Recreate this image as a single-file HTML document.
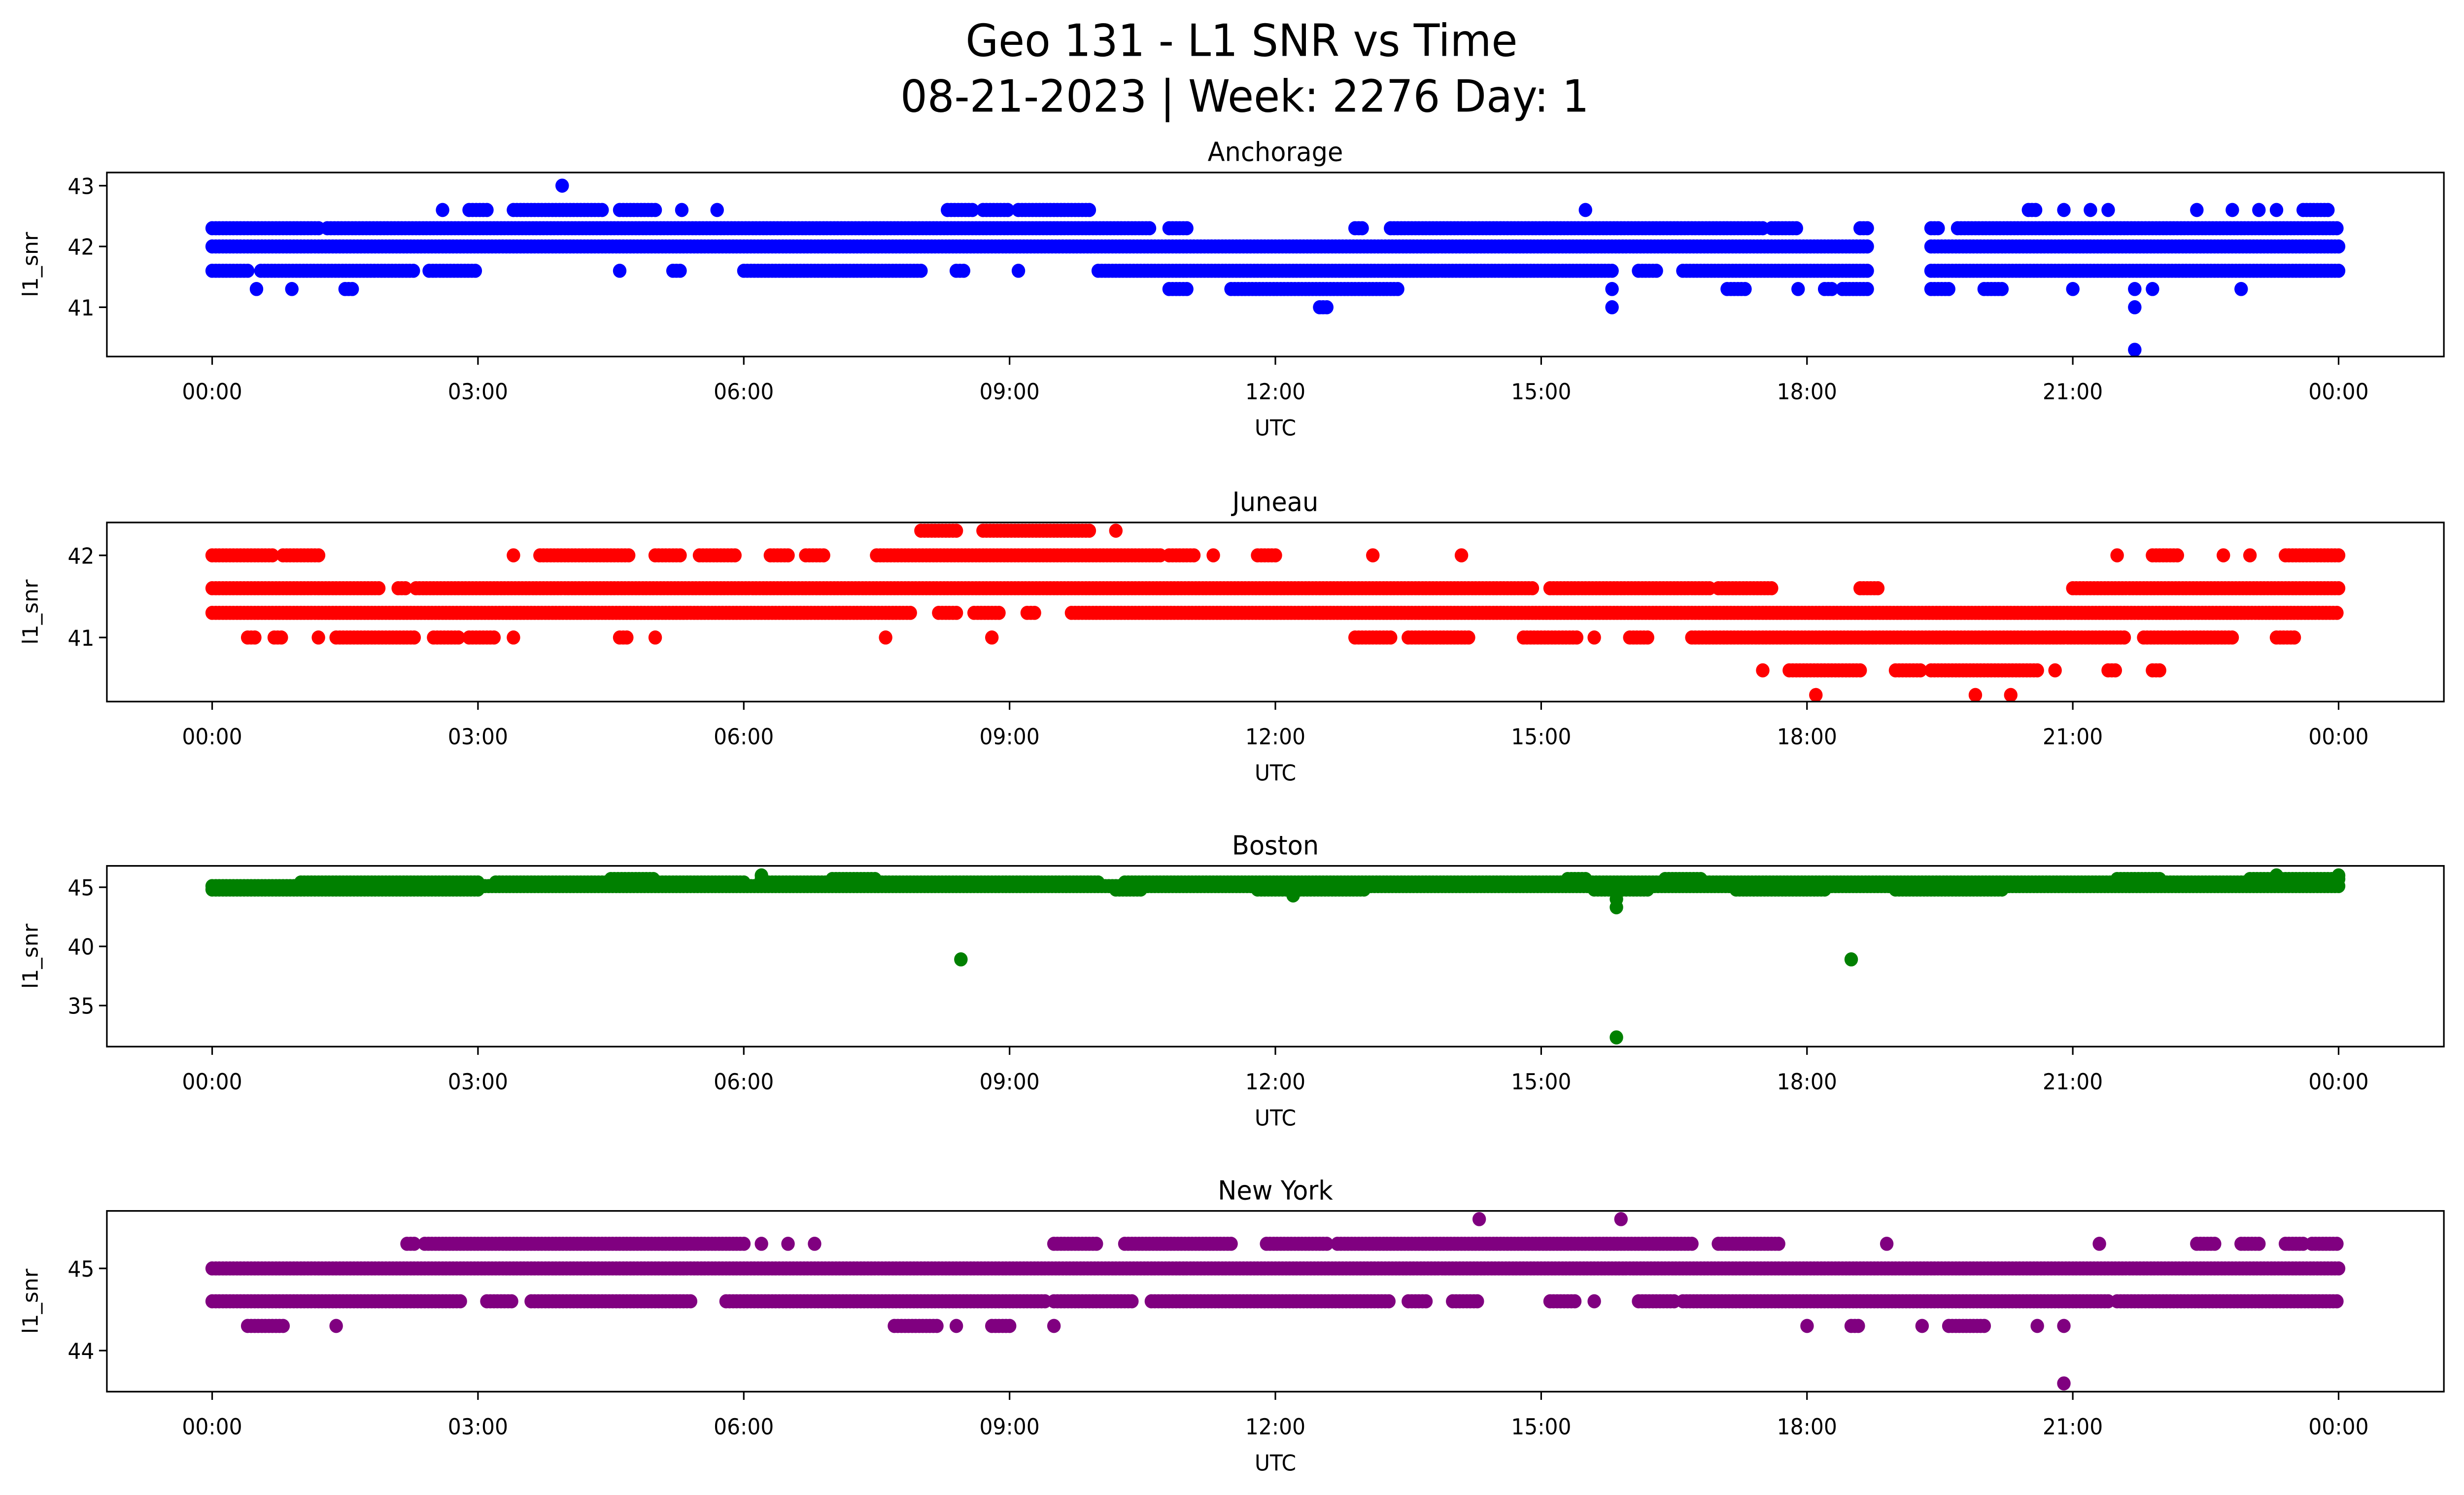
<!DOCTYPE html>
<html><head><meta charset="utf-8">
<style>
html,body{margin:0;padding:0;background:#fff;width:100%;height:100%;overflow:hidden;}
svg{display:block;position:fixed;left:0;top:0;width:100vw;height:100vh;font-family:"DejaVu Sans","Liberation Sans",sans-serif;}
</style></head>
<body>
<svg viewBox="0 0 1567.8 909.9" preserveAspectRatio="none" xmlns="http://www.w3.org/2000/svg">
<g id="chart">
<text x="790" y="34" text-anchor="middle" font-size="27">Geo 131 - L1 SNR vs Time</text>
<text x="792" y="68" text-anchor="middle" font-size="27">08-21-2023 | Week: 2276 Day: 1</text>
</g>
</svg>
<script>
// ---- data: runs [startHour, endHour] at each SNR level ----
const xTickLabels = ["00:00","03:00","06:00","09:00","12:00","15:00","18:00","21:00","00:00"];
const xTickHours = [0,3,6,9,12,15,18,21,24];

const anchorageLevels = [42.0, 42.3, 41.6, 41.3, 41.0, 42.6, 43.0, 40.3];
const anchorageRuns = [
  [[0,18.7],[19.4,24]],
  [[0,1.2],[1.3,10.6],[10.8,11.0],[12.9,13.0],[13.3,17.5],[17.6,17.9],[18.6,18.7],[19.4,19.5],[19.7,24]],
  [[0,0.4],[0.55,2.3],[2.45,3.0],[4.6,4.6],[5.2,5.3],[6.0,8.0],[8.4,8.5],[9.1,9.1],[10.0,15.8],[16.1,16.3],[16.6,18.7],[19.4,24]],
  [[0.5,0.5],[0.9,0.9],[1.5,1.6],[10.8,11.0],[11.5,13.4],[15.8,15.8],[17.1,17.3],[17.9,17.9],[18.2,18.3],[18.4,18.7],[19.4,19.6],[20.0,20.2],[21.0,21.0],[21.7,21.7],[21.9,21.9],[22.9,22.9]],
  [[12.5,12.6],[15.8,15.8],[21.7,21.7]],
  [[2.6,2.6],[2.9,3.1],[3.4,4.4],[4.6,5.0],[5.3,5.3],[5.7,5.7],[8.3,8.6],[8.7,9.0],[9.1,9.9],[15.5,15.5],[20.5,20.6],[20.9,20.9],[21.2,21.2],[21.4,21.4],[22.4,22.4],[22.8,22.8],[23.1,23.1],[23.3,23.3],[23.6,23.9]],
  [[3.95,3.95]],
  [[21.7,21.7]]
];
const anchorageTicks = [41, 42, 43];

const juneauLevels = [41.6, 41.3, 42.0, 41.0, 40.6, 40.3, 42.3];
const juneauRuns = [
  [[0,1.9],[2.1,2.2],[2.3,14.9],[15.1,16.9],[17.0,17.6],[18.6,18.8],[21.0,24]],
  [[0,7.9],[8.2,8.4],[8.6,8.9],[9.2,9.3],[9.7,24]],
  [[0,0.7],[0.8,1.2],[3.4,3.4],[3.7,4.7],[5.0,5.3],[5.5,5.9],[6.3,6.5],[6.7,6.9],[7.5,10.7],[10.8,11.1],[11.3,11.3],[11.8,12.0],[13.1,13.1],[14.1,14.1],[21.5,21.5],[21.9,22.2],[22.7,22.7],[23.0,23.0],[23.4,24]],
  [[0.4,0.5],[0.7,0.8],[1.2,1.2],[1.4,2.3],[2.5,2.8],[2.9,3.2],[3.4,3.4],[4.6,4.7],[5.0,5.0],[7.6,7.6],[8.8,8.8],[12.9,13.3],[13.5,14.2],[14.8,15.4],[15.6,15.6],[16.0,16.2],[16.7,21.6],[21.8,22.8],[23.3,23.5]],
  [[17.5,17.5],[17.8,18.6],[19.0,19.3],[19.4,20.6],[20.8,20.8],[21.4,21.5],[21.9,22.0]],
  [[18.1,18.1],[19.9,19.9],[20.3,20.3]],
  [[8.0,8.4],[8.7,9.9],[10.2,10.2]]
];
const juneauTicks = [41, 42];

const bostonLevels = [44.8, 45.1, 45.4, 45.7, 38.9, 43.3, 44.0, 32.3, 46.0, 44.3];
const bostonRuns = [
  [[0,3.0],[10.2,10.5],[11.8,13.0],[15.6,16.2],[17.2,18.2],[19.0,20.2]],
  [[0,24]],
  [[1.0,3.0],[3.2,6.0],[6.2,10.0],[10.3,24]],
  [[4.5,5.0],[6.2,6.2],[7.0,7.5],[15.3,15.5],[16.4,16.8],[21.5,22.0],[23.0,24]],
  [[8.45,8.45],[18.5,18.5]],
  [[15.85,15.85]],
  [[15.85,15.85]],
  [[15.85,15.85]],
  [[6.2,6.2],[23.3,23.3],[24,24]],
  [[12.2,12.2]]
];
const bostonTicks = [35, 40, 45];

const newYorkLevels = [45.0, 44.6, 45.3, 44.3, 45.6, 43.6];
const newYorkRuns = [
  [[0,24]],
  [[0,2.8],[3.1,3.4],[3.6,5.4],[5.8,9.4],[9.5,10.4],[10.6,13.3],[13.5,13.7],[14.0,14.3],[15.1,15.4],[15.6,15.6],[16.1,16.5],[16.6,21.4],[21.5,24]],
  [[2.2,2.3],[2.4,6.0],[6.2,6.2],[6.5,6.5],[6.8,6.8],[9.5,10.0],[10.3,11.5],[11.9,12.6],[12.7,16.7],[17.0,17.7],[18.9,18.9],[21.3,21.3],[22.4,22.6],[22.9,23.1],[23.4,23.6],[23.7,24]],
  [[0.4,0.8],[1.4,1.4],[7.7,8.2],[8.4,8.4],[8.8,9.0],[9.5,9.5],[18.0,18.0],[18.5,18.6],[19.3,19.3],[19.6,20.0],[20.6,20.6],[20.9,20.9]],
  [[14.3,14.3],[15.9,15.9]],
  [[20.9,20.9]]
];
const newYorkTicks = [44, 45];

// ---- layout ----
const NS = "http://www.w3.org/2000/svg";
const svg = document.getElementById('chart');
const X0 = 68, X1 = 1555;
const xOf = h => 135 + h * (1353 / 24);
const panels = [
  {name:"anchorage", title:"Anchorage", color:"#0000ff", levels:anchorageLevels, runs:anchorageRuns, ticks:anchorageTicks, top:105, bot:217, yA:43, pA:113, yB:41, pB:187},
  {name:"juneau", title:"Juneau", color:"#ff0000", levels:juneauLevels, runs:juneauRuns, ticks:juneauTicks, top:318, bot:427, yA:42, pA:338, yB:41, pB:388},
  {name:"boston", title:"Boston", color:"#008000", levels:bostonLevels, runs:bostonRuns, ticks:bostonTicks, top:527, bot:637, yA:45, pA:540, yB:35, pB:612},
  {name:"new-york", title:"New York", color:"#800080", levels:newYorkLevels, runs:newYorkRuns, ticks:newYorkTicks, top:737, bot:847, yA:45, pA:772, yB:44, pB:822}
];
function mk(tag, attrs, parent){
  const e = document.createElementNS(NS, tag);
  for (const k in attrs) e.setAttribute(k, attrs[k]);
  (parent || svg).appendChild(e);
  return e;
}
panels.forEach(p => {
  const g = mk('g', {});
  
  
  const yOf = v => p.pA + (v - p.yA) * (p.pB - p.pA) / (p.yB - p.yA);
  const pts = mk('g', {fill:p.color}, g);
  
  
  p.levels.forEach((lv, i) => {
    const cy = yOf(lv);
    p.runs[i].forEach(r => {
      const step = 0.04;
      for (let h = r[0]; h <= r[1] + 1e-9; h += step) {
        mk('circle', {cx: xOf(h).toFixed(1), cy: cy.toFixed(1), r: 4.3}, pts);
      }
    });
  });
  const fr = mk('rect', {x:X0, y:p.top, width:X1-X0, height:p.bot-p.top, fill:'none', stroke:'#000', 'stroke-width':1}, g);
  
  
  xTickHours.forEach((h, i) => {
    const x = xOf(h);
    mk('line', {x1:x, x2:x, y1:p.bot, y2:p.bot+5, stroke:'#000', 'stroke-width':1}, g);
    const t = mk('text', {x:x, y:p.bot+26, 'text-anchor':'middle', 'font-size':13.3}, g);
    
    
    t.textContent = xTickLabels[i];
  });
  p.ticks.forEach(v => {
    const y = yOf(v);
    mk('line', {x1:X0-5, x2:X0, y1:y, y2:y, stroke:'#000', 'stroke-width':1}, g);
    const t = mk('text', {x:X0-8, y:y+5, 'text-anchor':'end', 'font-size':13.3}, g);
    
    
    t.textContent = v;
  });
  const tt = mk('text', {x:(X0+X1)/2, y:p.top-7, 'text-anchor':'middle', 'font-size':16}, g);
  
  
  tt.textContent = p.title;
  const xl = mk('text', {x:(X0+X1)/2, y:p.bot+48, 'text-anchor':'middle', 'font-size':13.3}, g);
  
  
  xl.textContent = 'UTC';
  const cy = (p.top + p.bot) / 2;
  const yl = mk('text', {x:24, y:cy, 'text-anchor':'middle', 'font-size':13.3, transform:'rotate(-90 24 ' + cy + ')'}, g);
  
  
  yl.textContent = 'l1_snr';
});
</script>
</body></html>
